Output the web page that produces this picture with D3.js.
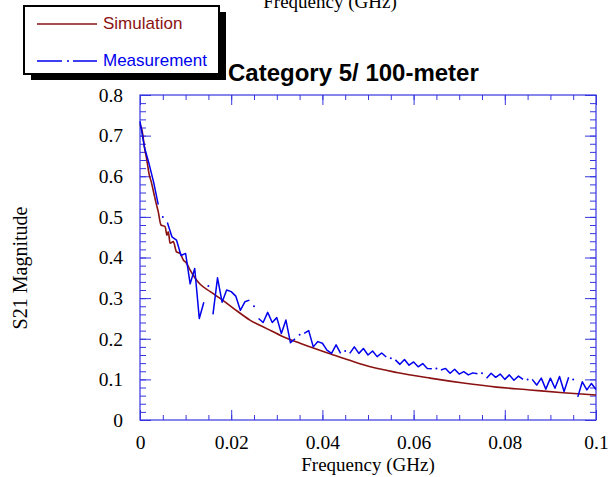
<!DOCTYPE html>
<html>
<head>
<meta charset="utf-8">
<script src="https://cdn.jsdelivr.net/npm/d3@7"></script>
<style>
  body { margin: 0; background: #fff; }
  svg { display: block; }
</style>
</head>
<body>
<div id="chart"></div>
<script>
// S21 magnitude, Category 5 / 100 m cable: simulation vs measurement

// simulation curve (GHz, magnitude)
var simFreq = [0, 0.0005, 0.001, 0.0015, 0.002, 0.0025, 0.003, 0.0035, 0.004, 0.0046,
  0.0055, 0.0059, 0.0062, 0.0066, 0.0073, 0.008, 0.0088, 0.0095, 0.0102, 0.011,
  0.0121, 0.0132, 0.0154, 0.0175, 0.0205, 0.0241, 0.0278, 0.0314, 0.0351, 0.0388,
  0.0424, 0.046, 0.049, 0.0563, 0.0636, 0.0709, 0.0782, 0.0855, 0.0928, 0.1];
var simMag = [0.728, 0.71, 0.67, 0.64, 0.605, 0.585, 0.56, 0.535, 0.513, 0.48,
  0.476, 0.455, 0.463, 0.435, 0.439, 0.414, 0.41, 0.394, 0.386, 0.369,
  0.349, 0.334, 0.316, 0.30, 0.275, 0.246, 0.225, 0.205, 0.189, 0.174,
  0.16, 0.147, 0.136, 0.117, 0.103, 0.091, 0.081, 0.074, 0.067, 0.0615];

// measurement, sampled every 0.001 GHz from 0
var measFreqStart = 0;
var measFreqStep = 0.001;
var measMag = [
  0.735, 0.67, 0.63, 0.585, 0.53, 0.50, 0.486, 0.451, 0.443, 0.405,
  0.41, 0.335, 0.373, 0.25, 0.29, 0.33, 0.26, 0.35, 0.29, 0.32,
  0.316, 0.305, 0.27, 0.291, 0.295, 0.28, 0.25, 0.24, 0.265, 0.24,
  0.252, 0.213, 0.246, 0.19, 0.20, 0.21, 0.213, 0.22, 0.18, 0.193,
  0.189, 0.172, 0.164, 0.185, 0.164, 0.17, 0.164, 0.18, 0.164, 0.176,
  0.16, 0.17, 0.156, 0.165, 0.155, 0.152, 0.148, 0.137, 0.149, 0.135,
  0.143, 0.131, 0.139, 0.127, 0.126, 0.127, 0.123, 0.127, 0.115, 0.125,
  0.113, 0.119, 0.111, 0.116, 0.114, 0.115, 0.103, 0.115, 0.105, 0.113,
  0.10, 0.111, 0.098, 0.108, 0.10, 0.10, 0.10, 0.086, 0.103, 0.076,
  0.103, 0.078, 0.107, 0.07, 0.105, 0.10, 0.057, 0.094, 0.074, 0.09,
  0.075];

var xTicks = [0, 0.02, 0.04, 0.06, 0.08, 0.1];
var xTickLabels = ["0", "0.02", "0.04", "0.06", "0.08", "0.1"];
var yTicks = [0, 0.1, 0.2, 0.3, 0.4, 0.5, 0.6, 0.7, 0.8];
var yTickLabels = ["0", "0.1", "0.2", "0.3", "0.4", "0.5", "0.6", "0.7", "0.8"];

var legendNames = ["Simulation", "Measurement"];

var settings = {
  width: 612,
  height: 477,
  left: 140,
  right: 596,
  top: 95,
  bottom: 420,
  axisColor: "#3535e0",
  simColor: "#8b1212",
  measColor: "#0000ee",
  serif: "'Liberation Serif', 'Times New Roman', serif",
  sans: "'Liberation Sans', Arial, sans-serif"
};

var svg = d3.select("#chart").append("svg")
  .attr("width", settings.width)
  .attr("height", settings.height);

var x = d3.scaleLinear().domain([0, 0.1]).range([settings.left, settings.right]);
var y = d3.scaleLinear().domain([0, 0.8]).range([settings.bottom, settings.top]);

var xMinor = d3.range(0, 0.1001, 0.005);
var yMinor = d3.range(0, 0.8001, 0.02);

// ---- axes, ticks drawn inward on all four sides
function styleAxis(g) {
  g.select(".domain").remove();
  g.selectAll("line").attr("stroke", settings.axisColor).attr("stroke-width", 1);
  g.selectAll("text")
    .attr("fill", "#000")
    .style("font-family", settings.serif)
    .style("font-size", "19.5px");
}

svg.append("g").attr("transform", "translate(0," + settings.bottom + ")")
  .call(d3.axisBottom(x).tickValues(xMinor).tickSize(-5).tickFormat(""))
  .call(styleAxis);
svg.append("g").attr("transform", "translate(0," + settings.bottom + ")")
  .call(d3.axisBottom(x).tickValues(xTicks).tickSize(-10).tickPadding(15)
    .tickFormat(function(d, i){ return xTickLabels[i]; }))
  .call(styleAxis);

svg.append("g").attr("transform", "translate(0," + settings.top + ")")
  .call(d3.axisTop(x).tickValues(xMinor).tickSize(-5).tickFormat(""))
  .call(styleAxis);
svg.append("g").attr("transform", "translate(0," + settings.top + ")")
  .call(d3.axisTop(x).tickValues(xTicks).tickSize(-10).tickFormat(""))
  .call(styleAxis);

svg.append("g").attr("transform", "translate(" + settings.left + ",0)")
  .call(d3.axisLeft(y).tickValues(yMinor).tickSize(-6).tickFormat(""))
  .call(styleAxis);
svg.append("g").attr("transform", "translate(" + settings.left + ",0)")
  .call(d3.axisLeft(y).tickValues(yTicks).tickSize(-11).tickPadding(17)
    .tickFormat(function(d, i){ return yTickLabels[i]; }))
  .call(styleAxis);

svg.append("g").attr("transform", "translate(" + settings.right + ",0)")
  .call(d3.axisRight(y).tickValues(yMinor).tickSize(-6).tickFormat(""))
  .call(styleAxis);
svg.append("g").attr("transform", "translate(" + settings.right + ",0)")
  .call(d3.axisRight(y).tickValues(yTicks).tickSize(-11).tickFormat(""))
  .call(styleAxis);

// frame
svg.append("rect")
  .attr("x", settings.left).attr("y", settings.top)
  .attr("width", settings.right - settings.left)
  .attr("height", settings.bottom - settings.top)
  .attr("fill", "none")
  .attr("stroke", settings.axisColor)
  .attr("stroke-width", 1.2);

// ---- data lines
var simPts = simFreq.map(function(f, i){ return [f, simMag[i]]; });
var measPts = measMag.map(function(v, i){ return [measFreqStart + i * measFreqStep, v]; });

var line = d3.line()
  .x(function(d){ return x(d[0]); })
  .y(function(d){ return y(d[1]); });

svg.append("path")
  .datum(simPts)
  .attr("d", line.curve(d3.curveMonotoneX))
  .attr("fill", "none")
  .attr("stroke", settings.simColor)
  .attr("stroke-width", 1.6);

// measurement: long dash over 8 samples, then gap with a dot (dash-dot style)
line.curve(d3.curveLinear);
var k, a, b;
for (k = 0; k <= 10; k++) {
  a = Math.max(0, k * 10 - 4);
  b = Math.min(measPts.length - 1, k * 10 + 4);
  svg.append("path")
    .datum(measPts.slice(a, b + 1))
    .attr("d", line)
    .attr("fill", "none")
    .attr("stroke", settings.measColor)
    .attr("stroke-width", 1.5)
    .attr("stroke-linejoin", "round");
  if (k * 10 + 5 < measPts.length) {
    svg.append("circle")
      .attr("cx", x(measPts[k * 10 + 5][0]))
      .attr("cy", y(measPts[k * 10 + 5][1]))
      .attr("r", 1)
      .attr("fill", settings.measColor);
  }
}

// ---- texts
svg.append("text")
  .attr("x", (settings.left + settings.right) / 2)
  .attr("y", 471)
  .attr("text-anchor", "middle")
  .style("font-family", settings.serif)
  .style("font-size", "19px")
  .text("Frequency (GHz)");

// stray copy of the axis title, cut off at the top
svg.append("text")
  .attr("x", 330)
  .attr("y", 8)
  .attr("text-anchor", "middle")
  .style("font-family", settings.serif)
  .style("font-size", "19px")
  .text("Frequency (GHz)");

svg.append("text")
  .attr("transform", "translate(27,268) rotate(-90)")
  .attr("text-anchor", "middle")
  .style("font-family", settings.serif)
  .style("font-size", "20px")
  .text("S21 Magnitude");

svg.append("text")
  .attr("x", 228)
  .attr("y", 81)
  .style("font-family", settings.sans)
  .style("font-size", "24px")
  .style("font-weight", "bold")
  .text("Category 5/ 100-meter");

// ---- legend box with drop shadow
var legend = svg.append("g");
legend.append("rect")
  .attr("x", 31).attr("y", 12).attr("width", 195).attr("height", 68)
  .attr("fill", "#000");
legend.append("rect")
  .attr("x", 24).attr("y", 6).attr("width", 195).attr("height", 68)
  .attr("fill", "#fff").attr("stroke", "#000").attr("stroke-width", 2);

legend.append("line")
  .attr("x1", 37).attr("x2", 97).attr("y1", 24).attr("y2", 24)
  .attr("stroke", settings.simColor).attr("stroke-width", 1.5);
legend.append("text")
  .attr("x", 103).attr("y", 29)
  .attr("fill", settings.simColor)
  .style("font-family", settings.sans).style("font-size", "17px")
  .text(legendNames[0]);

legend.append("line")
  .attr("x1", 37).attr("x2", 97).attr("y1", 61).attr("y2", 61)
  .attr("stroke", settings.measColor).attr("stroke-width", 1.5)
  .attr("stroke-dasharray", "25,5,2,4,30");
legend.append("text")
  .attr("x", 103).attr("y", 66)
  .attr("fill", settings.measColor)
  .style("font-family", settings.sans).style("font-size", "17px")
  .text(legendNames[1]);
</script>
</body>
</html>
